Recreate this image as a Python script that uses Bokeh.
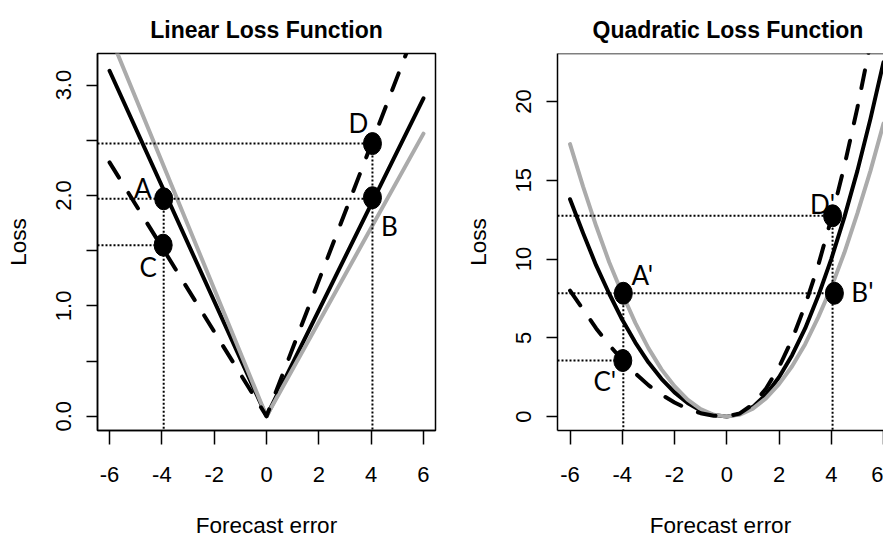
from bokeh.plotting import figure
from bokeh.layouts import row
from bokeh.models import ColumnDataSource, FixedTicker, Range1d, Span
from bokeh.core.properties import value
from bokeh.embed import file_html
from bokeh.resources import INLINE

# ---------------- data ----------------
# Linear loss panel
err_lin = [-6.0, 0.0, 6.0]
lin_black = [3.13, 0.0, 2.88]
lin_gray = [3.46, 0.0, 2.56]
lin_dash = [2.30, 0.0, 3.69]

lin_pt_label = ["A", "B", "C", "D"]
lin_pt_x = [-3.93, 4.05, -3.95, 4.05]
lin_pt_y = [1.97, 1.98, 1.55, 2.47]

# Quadratic loss panel
err_quad = [-6.0, -5.5, -5.0, -4.5, -4.0, -3.5, -3.0, -2.5, -2.0, -1.5, -1.0, -0.5, 0.0,
            0.5, 1.0, 1.5, 2.0, 2.5, 3.0, 3.5, 4.0, 4.5, 5.0, 5.5, 6.0]
quad_black = [13.8, 11.65, 9.6, 7.8, 6.15, 4.7, 3.45, 2.4, 1.54, 0.87, 0.38, 0.1, 0.0,
              0.16, 0.62, 1.4, 2.5, 3.9, 5.6, 7.65, 10.0, 12.65, 15.6, 18.9, 22.5]
quad_gray = [17.3, 14.6, 12.1, 9.8, 7.8, 5.95, 4.35, 3.0, 1.93, 1.08, 0.48, 0.12, 0.0,
             0.13, 0.51, 1.16, 2.06, 3.2, 4.6, 6.3, 8.2, 10.4, 12.9, 15.6, 18.6]
quad_dash = [8.0, 6.8, 5.6, 4.55, 3.6, 2.75, 2.0, 1.4, 0.9, 0.5, 0.22, 0.06, 0.0,
             0.2, 0.78, 1.77, 3.14, 4.9, 7.07, 9.6, 12.55, 15.9, 19.6, 23.7, 28.3]

quad_pt_label = ["A'", "B'", "C'", "D'"]
quad_pt_x = [-3.96, 4.12, -3.98, 4.05]
quad_pt_y = [7.83, 7.83, 3.56, 12.75]

x_ticks = [-6, -4, -2, 0, 2, 4, 6]
x_tick_labels = ["-6", "-4", "-2", "0", "2", "4", "6"]
lin_y_ticks = [0, 0.5, 1, 1.5, 2, 2.5, 3]
lin_y_labels = ["0.0", "", "1.0", "", "2.0", "", "3.0"]
quad_y_ticks = [0, 5, 10, 15, 20]
quad_y_labels = ["0", "5", "10", "15", "20"]

FONT = "Liberation Sans"
GRAY = "#ABABAB"


def make_panel(title, width, mb_left, mb_right, xr, yr, err, black, gray, dash,
               labels, px, py, y_ticks, y_labels, dx, dy, title_align, title_offset,
               keep_outline):
    p = figure(width=width, height=540, x_range=Range1d(*xr), y_range=Range1d(*yr),
               output_backend="svg", toolbar_location=None,
               min_border_left=mb_left, min_border_right=mb_right,
               min_border_top=53, min_border_bottom=108,
               background_fill_color="white", border_fill_color="white")
    p.grid.visible = False
    if keep_outline:
        p.outline_line_color = "black"
        p.outline_line_width = 1.5
    else:
        p.outline_line_color = None
        p.add_layout(Span(location=yr[1], dimension="width", line_color="black", line_width=1.5))

    p.title.text = title
    p.title.align = title_align
    p.title.offset = title_offset
    p.title.text_font = FONT
    p.title.text_font_size = "23px"
    p.title.text_font_style = "bold"
    p.title.text_color = "black"
    p.title.standoff = 22

    # axes
    p.xaxis.ticker = FixedTicker(ticks=x_ticks)
    p.xaxis.major_label_overrides = {t: l for t, l in zip(x_ticks, x_tick_labels)}
    p.yaxis.ticker = FixedTicker(ticks=y_ticks)
    p.yaxis.major_label_overrides = {t: l for t, l in zip(y_ticks, y_labels)}
    for ax in (p.xaxis, p.yaxis):
        ax.axis_line_color = "black"
        ax.axis_line_width = 1.5
        ax.major_tick_line_color = "black"
        ax.major_tick_line_width = 1.5
        ax.major_tick_in = 0
        ax.minor_tick_line_color = None
        ax.major_label_text_font = FONT
        ax.major_label_text_color = "black"
        ax.axis_label_text_font = FONT
        ax.axis_label_text_font_style = "normal"
        ax.axis_label_text_color = "black"
        ax.axis_label_text_font_size = "22.5px"
    p.xaxis.major_tick_out = 14
    p.yaxis.major_tick_out = 11
    p.xaxis.major_label_text_font_size = "22px"
    p.yaxis.major_label_text_font_size = "22px"
    p.yaxis.major_label_orientation = "vertical"
    p.xaxis.major_label_standoff = 22
    p.yaxis.major_label_standoff = 15
    p.xaxis.axis_label = "Forecast error"
    p.yaxis.axis_label = "Loss"
    p.xaxis.axis_label_standoff = 28
    p.yaxis.axis_label_standoff = 23

    # curves
    p.line(err, black, line_color="black", line_width=4, line_cap="round", line_join="round")
    p.line(err, gray, line_color=GRAY, line_width=4, line_cap="round", line_join="round")
    p.line(err, dash, line_color="black", line_width=4, line_dash="18 18",
           line_cap="round", line_join="round")

    # dotted guides
    x0 = xr[0]
    y0 = yr[0]
    hx0 = [x0, x0, x0]
    hx1 = [px[1], px[2], px[3]]
    hy = [py[0], py[2], py[3]]
    p.segment(x0=hx0, y0=hy, x1=hx1, y1=hy, line_color="black", line_width=2, line_dash="2 2")
    vx = [px[0], px[3]]
    vy0 = [py[0], py[3]]
    vy1 = [y0, y0]
    p.segment(x0=vx, y0=vy0, x1=vx, y1=vy1, line_color="black", line_width=2, line_dash="2 2")

    # points
    p.ellipse(x=px, y=py, width=18, height=22, width_units="screen", height_units="screen",
              fill_color="black", line_color="black")

    src = ColumnDataSource(dict(x=px, y=py, t=labels, dx=dx, dy=dy))
    p.text(x="x", y="y", text="t", x_offset="dx", y_offset="dy", source=src,
           text_font=value("Lato"), text_font_size=value("26px"), text_color="black",
           text_align="center", text_baseline="middle")
    return p


p1 = make_panel("Linear Loss Function", 440, 97, 5, (-6.46, 6.46), (-0.129, 3.286),
                err_lin, lin_black, lin_gray, lin_dash,
                lin_pt_label, lin_pt_x, lin_pt_y, lin_y_ticks, lin_y_labels,
                [-21, 17, -15, -14], [-11, 28, 22, -21], "center", 0, True)
p2 = make_panel("Quadratic Loss Function", 443, 117, 0, (-6.48, 6.0), (-0.88, 23.05),
                err_quad, quad_black, quad_gray, quad_dash,
                quad_pt_label, quad_pt_x, quad_pt_y, quad_y_ticks, quad_y_labels,
                [19, 28, -18, -10], [-18, -1, 20, -12], "left", 35, False)

layout = row(p1, p2)
open("out.html", "w").write(file_html(layout, INLINE))
